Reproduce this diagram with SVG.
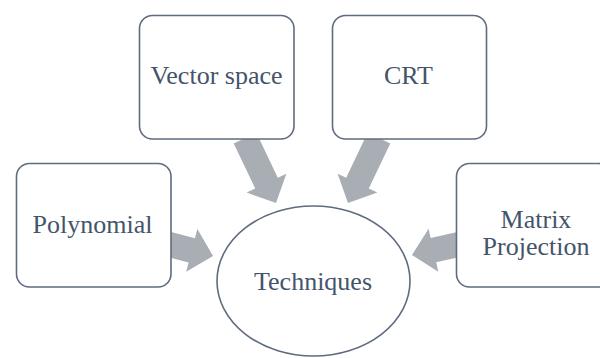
<svg xmlns="http://www.w3.org/2000/svg" xmlns:xlink="http://www.w3.org/1999/xlink" width="600" height="358" viewBox="0 0 600 358">
  <defs>
    <style>
      .box { fill: #ffffff; stroke: #5f6b7e; stroke-width: 1.6; }
      .label { font-family: "Liberation Serif", "Times New Roman", serif; font-size: 26px; fill: #44546a; text-anchor: middle; }
      .arrow { fill: #a9adb4; }
    </style>
    <!-- block arrow pointing along +x, tip at x=72 -->
    <path id="blockArrow" d="M0,-12.5 H50 V-22 L72,0 L50,22 V12.5 H0 Z"/>
  </defs>
  <rect width="600" height="358" fill="#ffffff"/>

  <g id="connectors">
    <use xlink:href="#blockArrow" class="arrow" transform="translate(245,138) rotate(64.5)"/>
    <use xlink:href="#blockArrow" class="arrow" transform="translate(379,138) rotate(115.5)"/>
    <use xlink:href="#blockArrow" class="arrow" transform="translate(143.4,237.7) rotate(14.7)"/>
    <use xlink:href="#blockArrow" class="arrow" transform="translate(482.2,239.1) rotate(167.2)"/>
  </g>

  <g id="node-vector-space">
    <rect class="box" x="139.5" y="15.5" width="154.5" height="123.5" rx="13"/>
    <text class="label" x="216.5" y="84">Vector space</text>
  </g>
  <g id="node-crt">
    <rect class="box" x="332.5" y="15.5" width="154" height="123.5" rx="13"/>
    <text class="label" x="408.5" y="84">CRT</text>
  </g>
  <g id="node-polynomial">
    <rect class="box" x="16.5" y="163.5" width="154.5" height="123.5" rx="13"/>
    <text class="label" x="92.5" y="233">Polynomial</text>
  </g>
  <g id="node-matrix-projection">
    <rect class="box" x="456.5" y="163.5" width="155" height="123.5" rx="13"/>
    <text class="label" x="536" y="228">Matrix</text>
    <text class="label" x="536" y="255">Projection</text>
  </g>
  <g id="node-techniques">
    <ellipse class="box" cx="313.5" cy="281" rx="96.5" ry="75"/>
    <text class="label" x="313" y="290">Techniques</text>
  </g>
</svg>
